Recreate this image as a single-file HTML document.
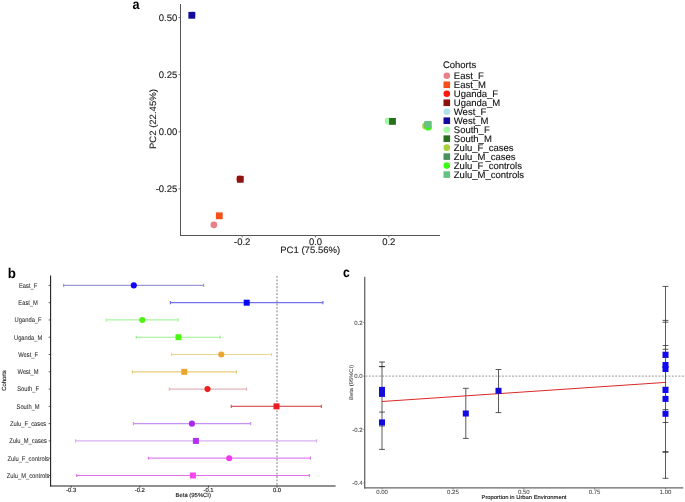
<!DOCTYPE html>
<html><head><meta charset="utf-8"><style>
html,body{margin:0;padding:0;background:#fff;}
body{width:685px;height:502px;overflow:hidden;}
svg{display:block;font-family:"Liberation Sans", sans-serif;filter:blur(0px);}
</style></head><body>
<svg width="685" height="502" viewBox="0 0 685 502" text-rendering="geometricPrecision">
<rect width="685" height="502" fill="#fff"/>
<g transform="translate(132.6,9.2) scale(0.9,1)">
<text x="0" y="0" font-size="14" text-anchor="start" font-weight="bold" fill="#000">a</text>
</g>
<line x1="180.5" y1="4" x2="180.5" y2="236.0" stroke="#555" stroke-width="1.05"/>
<line x1="180.0" y1="235.5" x2="440" y2="235.5" stroke="#555" stroke-width="1.05"/>
<line x1="178.5" y1="17.6" x2="180.5" y2="17.6" stroke="#555" stroke-width="0.8"/>
<text x="177.3" y="21.0" font-size="9.5" text-anchor="end" font-weight="normal" fill="#222" stroke="#222" stroke-width="0.12">0.50</text>
<line x1="178.5" y1="74.7" x2="180.5" y2="74.7" stroke="#555" stroke-width="0.8"/>
<text x="177.3" y="78.10000000000001" font-size="9.5" text-anchor="end" font-weight="normal" fill="#222" stroke="#222" stroke-width="0.12">0.25</text>
<line x1="178.5" y1="131.8" x2="180.5" y2="131.8" stroke="#555" stroke-width="0.8"/>
<text x="177.3" y="135.20000000000002" font-size="9.5" text-anchor="end" font-weight="normal" fill="#222" stroke="#222" stroke-width="0.12">0.00</text>
<line x1="178.5" y1="188.9" x2="180.5" y2="188.9" stroke="#555" stroke-width="0.8"/>
<text x="177.3" y="192.3" font-size="9.5" text-anchor="end" font-weight="normal" fill="#222" stroke="#222" stroke-width="0.12">-0.25</text>
<line x1="242.2" y1="235.5" x2="242.2" y2="237.4" stroke="#555" stroke-width="0.8"/>
<text x="242.2" y="244.8" font-size="9.5" text-anchor="middle" font-weight="normal" fill="#222" stroke="#222" stroke-width="0.12">-0.2</text>
<line x1="315.5" y1="235.5" x2="315.5" y2="237.4" stroke="#555" stroke-width="0.8"/>
<text x="315.5" y="244.8" font-size="9.5" text-anchor="middle" font-weight="normal" fill="#222" stroke="#222" stroke-width="0.12">0.0</text>
<line x1="388.8" y1="235.5" x2="388.8" y2="237.4" stroke="#555" stroke-width="0.8"/>
<text x="388.8" y="244.8" font-size="9.5" text-anchor="middle" font-weight="normal" fill="#222" stroke="#222" stroke-width="0.12">0.2</text>
<text x="310.2" y="253.1" font-size="9.2" text-anchor="middle" font-weight="normal" fill="#222" textLength="60" lengthAdjust="spacingAndGlyphs" stroke="#222" stroke-width="0.12">PC1 (75.56%)</text>
<g transform="translate(156.2,119.1) rotate(-90)">
<text x="0" y="0" font-size="9.2" text-anchor="middle" font-weight="normal" fill="#222" textLength="60" lengthAdjust="spacingAndGlyphs" stroke="#222" stroke-width="0.12">PC2 (22.45%)</text>
</g>
<circle cx="213.9" cy="224.8" r="3.4" fill="#E8808A"/>
<rect x="215.90" y="212.40" width="6.8" height="6.8" fill="#F5501A"/>
<circle cx="239.9" cy="178.9" r="3.4" fill="#FF160C"/>
<rect x="236.90" y="175.90" width="6.8" height="6.8" fill="#8C140F"/>
<circle cx="192.5" cy="14.6" r="3.4" fill="#B0E0E8"/>
<rect x="188.40" y="11.90" width="6.8" height="6.8" fill="#140AA0"/>
<circle cx="388.2" cy="121.0" r="3.4" fill="#A0FAA0"/>
<rect x="389.10" y="118.00" width="6.8" height="6.8" fill="#286E1E"/>
<circle cx="425.5" cy="126.0" r="3.4" fill="#A8D23C"/>
<rect x="424.60" y="121.20" width="6.8" height="6.8" fill="#4B915F"/>
<circle cx="428.2" cy="127.2" r="3.4" fill="#3CFA14"/>
<rect x="424.60" y="121.00" width="6.8" height="6.8" fill="#64C382"/>
<text x="442.9" y="67.9" font-size="9.5" text-anchor="start" font-weight="normal" fill="#111" stroke="#111" stroke-width="0.12">Cohorts</text>
<circle cx="446.8" cy="75.8" r="3.3" fill="#E8808A"/>
<text x="453.8" y="79.0" font-size="9.5" text-anchor="start" font-weight="normal" fill="#111" stroke="#111" stroke-width="0.12">East_F</text>
<rect x="443.50" y="81.48" width="6.6" height="6.6" fill="#F5501A"/>
<text x="453.8" y="87.98" font-size="9.5" text-anchor="start" font-weight="normal" fill="#111" stroke="#111" stroke-width="0.12">East_M</text>
<circle cx="446.8" cy="93.75999999999999" r="3.3" fill="#FF160C"/>
<text x="453.8" y="96.96" font-size="9.5" text-anchor="start" font-weight="normal" fill="#111" stroke="#111" stroke-width="0.12">Uganda_F</text>
<rect x="443.50" y="99.44" width="6.6" height="6.6" fill="#8C140F"/>
<text x="453.8" y="105.94" font-size="9.5" text-anchor="start" font-weight="normal" fill="#111" stroke="#111" stroke-width="0.12">Uganda_M</text>
<circle cx="446.8" cy="111.72" r="3.3" fill="#B0E0E8"/>
<text x="453.8" y="114.92" font-size="9.5" text-anchor="start" font-weight="normal" fill="#111" stroke="#111" stroke-width="0.12">West_F</text>
<rect x="443.50" y="117.40" width="6.6" height="6.6" fill="#140AA0"/>
<text x="453.8" y="123.9" font-size="9.5" text-anchor="start" font-weight="normal" fill="#111" stroke="#111" stroke-width="0.12">West_M</text>
<circle cx="446.8" cy="129.68" r="3.3" fill="#A0FAA0"/>
<text x="453.8" y="132.88" font-size="9.5" text-anchor="start" font-weight="normal" fill="#111" stroke="#111" stroke-width="0.12">South_F</text>
<rect x="443.50" y="135.36" width="6.6" height="6.6" fill="#286E1E"/>
<text x="453.8" y="141.85999999999999" font-size="9.5" text-anchor="start" font-weight="normal" fill="#111" stroke="#111" stroke-width="0.12">South_M</text>
<circle cx="446.8" cy="147.64" r="3.3" fill="#A8D23C"/>
<text x="453.8" y="150.83999999999997" font-size="9.5" text-anchor="start" font-weight="normal" fill="#111" stroke="#111" stroke-width="0.12">Zulu_F_cases</text>
<rect x="443.50" y="153.32" width="6.6" height="6.6" fill="#4B915F"/>
<text x="453.8" y="159.82" font-size="9.5" text-anchor="start" font-weight="normal" fill="#111" stroke="#111" stroke-width="0.12">Zulu_M_cases</text>
<circle cx="446.8" cy="165.60000000000002" r="3.3" fill="#3CFA14"/>
<text x="453.8" y="168.8" font-size="9.5" text-anchor="start" font-weight="normal" fill="#111" stroke="#111" stroke-width="0.12">Zulu_F_controls</text>
<rect x="443.50" y="171.28" width="6.6" height="6.6" fill="#64C382"/>
<text x="453.8" y="177.77999999999997" font-size="9.5" text-anchor="start" font-weight="normal" fill="#111" stroke="#111" stroke-width="0.12">Zulu_M_controls</text>
<g transform="translate(7.8,278.1) scale(0.95,1)">
<text x="0" y="0" font-size="14" text-anchor="start" font-weight="bold" fill="#000">b</text>
</g>
<line x1="277" y1="276" x2="277" y2="485.5" stroke="#aaa" stroke-width="1.6" stroke-dasharray="1.8 1.65"/>
<line x1="63.6" y1="285.4" x2="203.6" y2="285.4" stroke="#9A9AD8" stroke-width="1.2"/>
<line x1="63.6" y1="283.79999999999995" x2="63.6" y2="287.0" stroke="#9A9AD8" stroke-width="1.2"/>
<line x1="203.6" y1="283.79999999999995" x2="203.6" y2="287.0" stroke="#9A9AD8" stroke-width="1.2"/>
<circle cx="133.8" cy="285.4" r="3.05" fill="#1405F5"/>
<line x1="48.6" y1="285.4" x2="50.8" y2="285.4" stroke="#222" stroke-width="0.7"/>
<g transform="translate(28.1,287.70) scale(0.85,1)">
<text x="0" y="0" font-size="6.8" text-anchor="middle" font-weight="normal" fill="#2a2a2a" stroke="#2a2a2a" stroke-width="0.05">East_F</text>
</g>
<line x1="170.4" y1="302.68" x2="322.9" y2="302.68" stroke="#7070EB" stroke-width="1.2"/>
<line x1="170.4" y1="301.08" x2="170.4" y2="304.28000000000003" stroke="#7070EB" stroke-width="1.2"/>
<line x1="322.9" y1="301.08" x2="322.9" y2="304.28000000000003" stroke="#7070EB" stroke-width="1.2"/>
<rect x="243.70" y="299.68" width="6.0" height="6.0" fill="#0505F5"/>
<line x1="48.6" y1="302.68" x2="50.8" y2="302.68" stroke="#222" stroke-width="0.7"/>
<g transform="translate(28.1,304.98) scale(0.85,1)">
<text x="0" y="0" font-size="6.8" text-anchor="middle" font-weight="normal" fill="#2a2a2a" stroke="#2a2a2a" stroke-width="0.05">East_M</text>
</g>
<line x1="106.5" y1="319.96" x2="178.2" y2="319.96" stroke="#AAF5A0" stroke-width="1.2"/>
<line x1="106.5" y1="318.35999999999996" x2="106.5" y2="321.56" stroke="#AAF5A0" stroke-width="1.2"/>
<line x1="178.2" y1="318.35999999999996" x2="178.2" y2="321.56" stroke="#AAF5A0" stroke-width="1.2"/>
<circle cx="142.3" cy="319.96" r="3.05" fill="#50F014"/>
<line x1="48.6" y1="319.96" x2="50.8" y2="319.96" stroke="#222" stroke-width="0.7"/>
<g transform="translate(28.1,322.26) scale(0.85,1)">
<text x="0" y="0" font-size="6.8" text-anchor="middle" font-weight="normal" fill="#2a2a2a" stroke="#2a2a2a" stroke-width="0.05">Uganda_F</text>
</g>
<line x1="136.3" y1="337.24" x2="220.2" y2="337.24" stroke="#9AF090" stroke-width="1.2"/>
<line x1="136.3" y1="335.64" x2="136.3" y2="338.84000000000003" stroke="#9AF090" stroke-width="1.2"/>
<line x1="220.2" y1="335.64" x2="220.2" y2="338.84000000000003" stroke="#9AF090" stroke-width="1.2"/>
<rect x="175.50" y="334.24" width="6.0" height="6.0" fill="#4BF514"/>
<line x1="48.6" y1="337.24" x2="50.8" y2="337.24" stroke="#222" stroke-width="0.7"/>
<g transform="translate(28.1,339.54) scale(0.85,1)">
<text x="0" y="0" font-size="6.8" text-anchor="middle" font-weight="normal" fill="#2a2a2a" stroke="#2a2a2a" stroke-width="0.05">Uganda_M</text>
</g>
<line x1="171.5" y1="354.52" x2="271.5" y2="354.52" stroke="#EBD78C" stroke-width="1.2"/>
<line x1="171.5" y1="352.91999999999996" x2="171.5" y2="356.12" stroke="#EBD78C" stroke-width="1.2"/>
<line x1="271.5" y1="352.91999999999996" x2="271.5" y2="356.12" stroke="#EBD78C" stroke-width="1.2"/>
<circle cx="221.3" cy="354.52" r="3.05" fill="#EBA52D"/>
<line x1="48.6" y1="354.52" x2="50.8" y2="354.52" stroke="#222" stroke-width="0.7"/>
<g transform="translate(28.1,356.82) scale(0.85,1)">
<text x="0" y="0" font-size="6.8" text-anchor="middle" font-weight="normal" fill="#2a2a2a" stroke="#2a2a2a" stroke-width="0.05">West_F</text>
</g>
<line x1="132.3" y1="371.8" x2="236.4" y2="371.8" stroke="#E6CC7A" stroke-width="1.2"/>
<line x1="132.3" y1="370.2" x2="132.3" y2="373.40000000000003" stroke="#E6CC7A" stroke-width="1.2"/>
<line x1="236.4" y1="370.2" x2="236.4" y2="373.40000000000003" stroke="#E6CC7A" stroke-width="1.2"/>
<rect x="181.30" y="368.80" width="6.0" height="6.0" fill="#EBA52D"/>
<line x1="48.6" y1="371.8" x2="50.8" y2="371.8" stroke="#222" stroke-width="0.7"/>
<g transform="translate(28.1,374.10) scale(0.85,1)">
<text x="0" y="0" font-size="6.8" text-anchor="middle" font-weight="normal" fill="#2a2a2a" stroke="#2a2a2a" stroke-width="0.05">West_M</text>
</g>
<line x1="169.3" y1="389.08" x2="246.5" y2="389.08" stroke="#E2B4B8" stroke-width="1.2"/>
<line x1="169.3" y1="387.47999999999996" x2="169.3" y2="390.68" stroke="#E2B4B8" stroke-width="1.2"/>
<line x1="246.5" y1="387.47999999999996" x2="246.5" y2="390.68" stroke="#E2B4B8" stroke-width="1.2"/>
<circle cx="207.5" cy="389.08" r="3.05" fill="#F01E1E"/>
<line x1="48.6" y1="389.08" x2="50.8" y2="389.08" stroke="#222" stroke-width="0.7"/>
<g transform="translate(28.1,391.38) scale(0.85,1)">
<text x="0" y="0" font-size="6.8" text-anchor="middle" font-weight="normal" fill="#2a2a2a" stroke="#2a2a2a" stroke-width="0.05">South_F</text>
</g>
<line x1="231.3" y1="406.36" x2="321.4" y2="406.36" stroke="#DC5A60" stroke-width="1.2"/>
<line x1="231.3" y1="404.76" x2="231.3" y2="407.96000000000004" stroke="#DC5A60" stroke-width="1.2"/>
<line x1="321.4" y1="404.76" x2="321.4" y2="407.96000000000004" stroke="#DC5A60" stroke-width="1.2"/>
<rect x="273.50" y="403.36" width="6.0" height="6.0" fill="#E81E1E"/>
<line x1="48.6" y1="406.36" x2="50.8" y2="406.36" stroke="#222" stroke-width="0.7"/>
<g transform="translate(28.1,408.66) scale(0.85,1)">
<text x="0" y="0" font-size="6.8" text-anchor="middle" font-weight="normal" fill="#2a2a2a" stroke="#2a2a2a" stroke-width="0.05">South_M</text>
</g>
<line x1="133.4" y1="423.64" x2="250.7" y2="423.64" stroke="#C890F0" stroke-width="1.2"/>
<line x1="133.4" y1="422.03999999999996" x2="133.4" y2="425.24" stroke="#C890F0" stroke-width="1.2"/>
<line x1="250.7" y1="422.03999999999996" x2="250.7" y2="425.24" stroke="#C890F0" stroke-width="1.2"/>
<circle cx="191.9" cy="423.64" r="3.05" fill="#AA28F0"/>
<line x1="48.6" y1="423.64" x2="50.8" y2="423.64" stroke="#222" stroke-width="0.7"/>
<g transform="translate(28.1,425.94) scale(0.85,1)">
<text x="0" y="0" font-size="6.8" text-anchor="middle" font-weight="normal" fill="#2a2a2a" stroke="#2a2a2a" stroke-width="0.05">Zulu_F_cases</text>
</g>
<line x1="75.6" y1="440.92" x2="316.6" y2="440.92" stroke="#D6B0F0" stroke-width="1.2"/>
<line x1="75.6" y1="439.32" x2="75.6" y2="442.52000000000004" stroke="#D6B0F0" stroke-width="1.2"/>
<line x1="316.6" y1="439.32" x2="316.6" y2="442.52000000000004" stroke="#D6B0F0" stroke-width="1.2"/>
<rect x="192.90" y="437.92" width="6.0" height="6.0" fill="#B432F5"/>
<line x1="48.6" y1="440.92" x2="50.8" y2="440.92" stroke="#222" stroke-width="0.7"/>
<g transform="translate(28.1,443.22) scale(0.85,1)">
<text x="0" y="0" font-size="6.8" text-anchor="middle" font-weight="normal" fill="#2a2a2a" stroke="#2a2a2a" stroke-width="0.05">Zulu_M_cases</text>
</g>
<line x1="148.5" y1="458.2" x2="310.4" y2="458.2" stroke="#E080F0" stroke-width="1.2"/>
<line x1="148.5" y1="456.59999999999997" x2="148.5" y2="459.8" stroke="#E080F0" stroke-width="1.2"/>
<line x1="310.4" y1="456.59999999999997" x2="310.4" y2="459.8" stroke="#E080F0" stroke-width="1.2"/>
<circle cx="229.2" cy="458.2" r="3.05" fill="#F03CF0"/>
<line x1="48.6" y1="458.2" x2="50.8" y2="458.2" stroke="#222" stroke-width="0.7"/>
<g transform="translate(28.1,460.50) scale(0.85,1)">
<text x="0" y="0" font-size="6.8" text-anchor="middle" font-weight="normal" fill="#2a2a2a" stroke="#2a2a2a" stroke-width="0.05">Zulu_F_controls</text>
</g>
<line x1="76.7" y1="475.48" x2="309.3" y2="475.48" stroke="#E070EC" stroke-width="1.2"/>
<line x1="76.7" y1="473.88" x2="76.7" y2="477.08000000000004" stroke="#E070EC" stroke-width="1.2"/>
<line x1="309.3" y1="473.88" x2="309.3" y2="477.08000000000004" stroke="#E070EC" stroke-width="1.2"/>
<rect x="189.90" y="472.48" width="6.0" height="6.0" fill="#F846F0"/>
<line x1="48.6" y1="475.48" x2="50.8" y2="475.48" stroke="#222" stroke-width="0.7"/>
<g transform="translate(28.1,477.78) scale(0.85,1)">
<text x="0" y="0" font-size="6.8" text-anchor="middle" font-weight="normal" fill="#2a2a2a" stroke="#2a2a2a" stroke-width="0.05">Zulu_M_controls</text>
</g>
<line x1="50.6" y1="275.4" x2="50.6" y2="486.6" stroke="#222" stroke-width="1.1"/>
<line x1="50.05" y1="486.05" x2="335.6" y2="486.05" stroke="#222" stroke-width="1.1"/>
<line x1="71.2" y1="485.8" x2="71.2" y2="487.8" stroke="#222" stroke-width="0.7"/>
<text x="71.2" y="491.8" font-size="5.9" text-anchor="middle" font-weight="normal" fill="#222" stroke="#222" stroke-width="0.15">-0.3</text>
<line x1="139.8" y1="485.8" x2="139.8" y2="487.8" stroke="#222" stroke-width="0.7"/>
<text x="139.8" y="491.8" font-size="5.9" text-anchor="middle" font-weight="normal" fill="#222" stroke="#222" stroke-width="0.15">-0.2</text>
<line x1="208.5" y1="485.8" x2="208.5" y2="487.8" stroke="#222" stroke-width="0.7"/>
<text x="208.5" y="491.8" font-size="5.9" text-anchor="middle" font-weight="normal" fill="#222" stroke="#222" stroke-width="0.15">-0.1</text>
<line x1="277" y1="485.8" x2="277" y2="487.8" stroke="#222" stroke-width="0.7"/>
<text x="277" y="491.8" font-size="5.9" text-anchor="middle" font-weight="normal" fill="#222" stroke="#222" stroke-width="0.15">0.0</text>
<text x="193.3" y="496.6" font-size="5.9" text-anchor="middle" font-weight="normal" fill="#222" stroke="#222" stroke-width="0.15">Beta (95%CI)</text>
<g transform="translate(6.4,380.5) rotate(-90)">
<text x="0" y="0" font-size="5.9" text-anchor="middle" font-weight="normal" fill="#222" stroke="#222" stroke-width="0.15">Cohorts</text>
</g>
<g transform="translate(343.1,276.9) scale(0.88,1)">
<text x="0" y="0" font-size="13.8" text-anchor="start" font-weight="bold" fill="#000">c</text>
</g>
<line x1="364.7" y1="276.7" x2="364.7" y2="488.4" stroke="#666" stroke-width="1.3"/>
<line x1="364.1" y1="487.8" x2="683.2" y2="487.8" stroke="#666" stroke-width="1.3"/>
<line x1="365.5" y1="376.1" x2="685" y2="376.1" stroke="#aaa" stroke-width="1.2" stroke-dasharray="1.9 1.43"/>
<line x1="363.2" y1="322.5" x2="364.7" y2="322.5" stroke="#555" stroke-width="0.6"/>
<text x="362.6" y="324.5" font-size="6.0" text-anchor="end" font-weight="normal" fill="#444" stroke="#444" stroke-width="0.05">0.2</text>
<line x1="363.2" y1="376.1" x2="364.7" y2="376.1" stroke="#555" stroke-width="0.6"/>
<text x="362.6" y="378.1" font-size="6.0" text-anchor="end" font-weight="normal" fill="#444" stroke="#444" stroke-width="0.05">0.0</text>
<line x1="363.2" y1="429.5" x2="364.7" y2="429.5" stroke="#555" stroke-width="0.6"/>
<text x="362.6" y="431.5" font-size="6.0" text-anchor="end" font-weight="normal" fill="#444" stroke="#444" stroke-width="0.05">-0.2</text>
<line x1="363.2" y1="483" x2="364.7" y2="483" stroke="#555" stroke-width="0.6"/>
<text x="362.6" y="485.0" font-size="6.0" text-anchor="end" font-weight="normal" fill="#444" stroke="#444" stroke-width="0.05">-0.4</text>
<line x1="382" y1="487.8" x2="382" y2="489.3" stroke="#555" stroke-width="0.6"/>
<text x="382" y="493.9" font-size="6.0" text-anchor="middle" font-weight="normal" fill="#444" stroke="#444" stroke-width="0.05">0.00</text>
<line x1="452.9" y1="487.8" x2="452.9" y2="489.3" stroke="#555" stroke-width="0.6"/>
<text x="452.9" y="493.9" font-size="6.0" text-anchor="middle" font-weight="normal" fill="#444" stroke="#444" stroke-width="0.05">0.25</text>
<line x1="523.75" y1="487.8" x2="523.75" y2="489.3" stroke="#555" stroke-width="0.6"/>
<text x="523.75" y="493.9" font-size="6.0" text-anchor="middle" font-weight="normal" fill="#444" stroke="#444" stroke-width="0.05">0.50</text>
<line x1="594.6" y1="487.8" x2="594.6" y2="489.3" stroke="#555" stroke-width="0.6"/>
<text x="594.6" y="493.9" font-size="6.0" text-anchor="middle" font-weight="normal" fill="#444" stroke="#444" stroke-width="0.05">0.75</text>
<line x1="665.5" y1="487.8" x2="665.5" y2="489.3" stroke="#555" stroke-width="0.6"/>
<text x="665.5" y="493.9" font-size="6.0" text-anchor="middle" font-weight="normal" fill="#444" stroke="#444" stroke-width="0.05">1.00</text>
<text x="524" y="498.8" font-size="5.6" text-anchor="middle" font-weight="normal" fill="#222" textLength="85" lengthAdjust="spacingAndGlyphs" stroke="#222" stroke-width="0.15">Proportion in Urban Environment</text>
<g transform="translate(352.9,382.4) rotate(-90)">
<text x="0" y="0" font-size="5.3" text-anchor="middle" font-weight="normal" fill="#333" textLength="35" lengthAdjust="spacingAndGlyphs" stroke="#333" stroke-width="0.05">Beta (95%CI)</text>
</g>
<line x1="382" y1="362" x2="382" y2="449.4" stroke="#2a2a2a" stroke-width="0.78"/>
<line x1="379.1" y1="449.4" x2="384.9" y2="449.4" stroke="#2a2a2a" stroke-width="0.78"/>
<line x1="379.1" y1="426" x2="384.9" y2="426" stroke="#2a2a2a" stroke-width="0.78"/>
<line x1="379.1" y1="362" x2="384.9" y2="362" stroke="#2a2a2a" stroke-width="0.78"/>
<line x1="379.1" y1="395.4" x2="384.9" y2="395.4" stroke="#2a2a2a" stroke-width="0.78"/>
<line x1="379.1" y1="366.6" x2="384.9" y2="366.6" stroke="#2a2a2a" stroke-width="1.1"/>
<line x1="379.1" y1="412.1" x2="384.9" y2="412.1" stroke="#2a2a2a" stroke-width="0.78"/>
<line x1="465.8" y1="388.3" x2="465.8" y2="438.4" stroke="#2a2a2a" stroke-width="0.78"/>
<line x1="462.90000000000003" y1="388.3" x2="468.7" y2="388.3" stroke="#2a2a2a" stroke-width="0.78"/>
<line x1="462.90000000000003" y1="438.4" x2="468.7" y2="438.4" stroke="#2a2a2a" stroke-width="0.78"/>
<line x1="498.5" y1="369.5" x2="498.5" y2="412.6" stroke="#2a2a2a" stroke-width="0.78"/>
<line x1="495.6" y1="369.5" x2="501.4" y2="369.5" stroke="#2a2a2a" stroke-width="0.78"/>
<line x1="495.6" y1="412.6" x2="501.4" y2="412.6" stroke="#2a2a2a" stroke-width="0.78"/>
<line x1="665.5" y1="286.4" x2="665.5" y2="478.3" stroke="#2a2a2a" stroke-width="0.78"/>
<line x1="662.6" y1="320.4" x2="668.4" y2="320.4" stroke="#2a2a2a" stroke-width="0.78"/>
<line x1="662.6" y1="322.2" x2="668.4" y2="322.2" stroke="#2a2a2a" stroke-width="0.78"/>
<line x1="662.6" y1="387.2" x2="668.4" y2="387.2" stroke="#2a2a2a" stroke-width="0.78"/>
<line x1="662.6" y1="451.6" x2="668.4" y2="451.6" stroke="#2a2a2a" stroke-width="0.78"/>
<line x1="662.6" y1="357.5" x2="668.4" y2="357.5" stroke="#2a2a2a" stroke-width="0.78"/>
<line x1="662.6" y1="422.5" x2="668.4" y2="422.5" stroke="#2a2a2a" stroke-width="0.78"/>
<line x1="662.6" y1="452.3" x2="668.4" y2="452.3" stroke="#2a2a2a" stroke-width="0.78"/>
<line x1="662.6" y1="345.5" x2="668.4" y2="345.5" stroke="#2a2a2a" stroke-width="0.78"/>
<line x1="662.6" y1="478.3" x2="668.4" y2="478.3" stroke="#2a2a2a" stroke-width="0.78"/>
<line x1="662.6" y1="409.6" x2="668.4" y2="409.6" stroke="#2a2a2a" stroke-width="0.78"/>
<line x1="662.6" y1="349.3" x2="668.4" y2="349.3" stroke="#2a2a2a" stroke-width="0.78"/>
<line x1="662.6" y1="286.4" x2="668.4" y2="286.4" stroke="#2a2a2a" stroke-width="0.78"/>
<line x1="382" y1="401.5" x2="665.5" y2="382.4" stroke="#DC2828" stroke-width="1.0"/>
<rect x="379.00" y="386.90" width="6.0" height="6.0" fill="#1208F0"/>
<rect x="379.00" y="390.90" width="6.0" height="6.0" fill="#1208F0"/>
<rect x="379.00" y="419.40" width="6.0" height="6.0" fill="#1208F0"/>
<rect x="462.80" y="410.50" width="6.0" height="6.0" fill="#1208F0"/>
<rect x="495.50" y="387.80" width="6.0" height="6.0" fill="#1208F0"/>
<rect x="662.50" y="351.70" width="6.0" height="6.0" fill="#1208F0"/>
<rect x="662.50" y="362.00" width="6.0" height="6.0" fill="#1208F0"/>
<rect x="662.50" y="366.00" width="6.0" height="6.0" fill="#1208F0"/>
<rect x="662.50" y="387.00" width="6.0" height="6.0" fill="#1208F0"/>
<rect x="662.50" y="395.90" width="6.0" height="6.0" fill="#1208F0"/>
<rect x="662.50" y="410.80" width="6.0" height="6.0" fill="#1208F0"/>
<line x1="382" y1="386.9" x2="382" y2="392.9" stroke="#2a2a2a" stroke-width="0.78" opacity="0.45"/>
<line x1="382" y1="390.9" x2="382" y2="396.9" stroke="#2a2a2a" stroke-width="0.78" opacity="0.45"/>
<line x1="382" y1="419.4" x2="382" y2="425.4" stroke="#2a2a2a" stroke-width="0.78" opacity="0.45"/>
<line x1="465.8" y1="410.5" x2="465.8" y2="416.5" stroke="#2a2a2a" stroke-width="0.78" opacity="0.45"/>
<line x1="498.5" y1="387.8" x2="498.5" y2="393.8" stroke="#2a2a2a" stroke-width="0.78" opacity="0.45"/>
<line x1="665.5" y1="351.7" x2="665.5" y2="357.7" stroke="#2a2a2a" stroke-width="0.78" opacity="0.45"/>
<line x1="665.5" y1="362" x2="665.5" y2="368" stroke="#2a2a2a" stroke-width="0.78" opacity="0.45"/>
<line x1="665.5" y1="366" x2="665.5" y2="372" stroke="#2a2a2a" stroke-width="0.78" opacity="0.45"/>
<line x1="665.5" y1="387" x2="665.5" y2="393" stroke="#2a2a2a" stroke-width="0.78" opacity="0.45"/>
<line x1="665.5" y1="395.9" x2="665.5" y2="401.9" stroke="#2a2a2a" stroke-width="0.78" opacity="0.45"/>
<line x1="665.5" y1="410.8" x2="665.5" y2="416.8" stroke="#2a2a2a" stroke-width="0.78" opacity="0.45"/>
</svg>
</body></html>
